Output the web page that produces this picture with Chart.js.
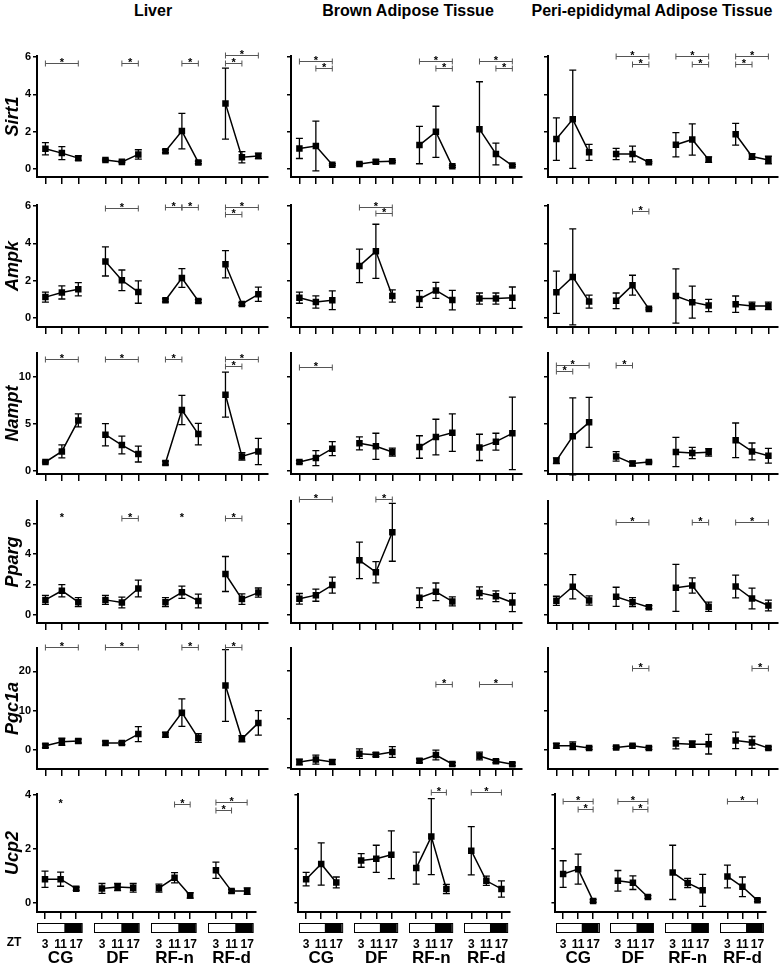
<!DOCTYPE html>
<html>
<head>
<meta charset="utf-8">
<script src="https://cdn.jsdelivr.net/npm/chart.js@4"></script>
<style>
body { margin:0; background:#fff; width:782px; height:967px; position:relative; overflow:hidden; }
.title { position:absolute; top:2px; font:bold 16px 'Liberation Sans Narrow','Liberation Sans',Arial,sans-serif; transform:translateX(-50%); white-space:nowrap; color:#000; }
canvas { position:absolute; }
</style>
</head>
<body>
<div class="title" style="left:153px">Liver</div>
<div class="title" style="left:408px">Brown Adipose Tissue</div>
<div class="title" style="left:652px">Peri-epididymal Adipose Tissue</div>
<script>
const groups = ['CG', 'DF', 'RF-n', 'RF-d'];
const zt = ['3', '11', '17'];
const genes = ['Sirt1', 'Ampk', 'Nampt', 'Pparg', 'Pgc1a', 'Ucp2'];

// mean and error per tissue (liver, BAT, pWAT); 12 values = CG, DF, RF-n, RF-d x ZT3/11/17
const sirt1Mean = [
  [1.08, 0.85, 0.58, 0.48, 0.38, 0.78, 0.95, 2.03, 0.35, 3.5, 0.63, 0.7],
  [1.1, 1.23, 0.23, 0.27, 0.39, 0.41, 1.28, 1.99, 0.14, 2.13, 0.8, 0.18],
  [1.6, 2.66, 0.89, 0.8, 0.8, 0.36, 1.3, 1.58, 0.5, 1.86, 0.67, 0.48]
];
const sirt1Err = [
  [0.33, 0.35, 0.12, 0.05, 0.04, 0.25, 0.08, 0.95, 0.07, 1.9, 0.3, 0.15],
  [0.54, 1.33, 0.05, 0.05, 0.1, 0.05, 1.0, 1.37, 0.05, 2.54, 0.58, 0.05],
  [1.14, 2.63, 0.43, 0.3, 0.42, 0.05, 0.65, 0.84, 0.15, 0.58, 0.15, 0.2]
];
const ampkMean = [
  [1.12, 1.37, 1.54, 3.03, 2.02, 1.39, 0.95, 2.14, 0.91, 2.88, 0.75, 1.27],
  [1.09, 0.86, 0.95, 2.79, 3.57, 1.18, 1.02, 1.48, 0.96, 1.04, 1.04, 1.09],
  [1.38, 2.2, 0.88, 0.92, 1.76, 0.49, 1.18, 0.85, 0.67, 0.74, 0.65, 0.65]
];
const ampkErr = [
  [0.27, 0.35, 0.35, 0.78, 0.55, 0.6, 0.08, 0.5, 0.08, 0.73, 0.07, 0.38],
  [0.3, 0.33, 0.5, 0.9, 1.45, 0.33, 0.45, 0.43, 0.52, 0.3, 0.3, 0.57],
  [1.13, 2.57, 0.35, 0.42, 0.53, 0.05, 1.45, 0.86, 0.33, 0.44, 0.2, 0.2]
];
const namptMean = [
  [0.93, 2.06, 5.37, 3.84, 2.74, 1.78, 0.82, 6.48, 3.91, 8.11, 1.53, 2.06],
  [0.93, 1.35, 2.35, 2.92, 2.6, 1.99, 2.53, 3.59, 4.06, 2.49, 3.1, 3.99],
  [1.07, 3.67, 5.16, 1.53, 0.78, 0.93, 1.99, 1.89, 1.96, 3.24, 2.06, 1.6]
];
const namptErr = [
  [0.1, 0.7, 0.7, 1.18, 0.95, 0.85, 0.2, 1.56, 1.15, 2.4, 0.4, 1.4],
  [0.15, 0.8, 0.75, 0.7, 1.4, 0.42, 1.2, 1.9, 2.0, 1.4, 0.9, 3.87],
  [0.3, 4.1, 2.67, 0.5, 0.25, 0.1, 1.56, 0.6, 0.4, 1.85, 0.9, 0.78]
];
const ppargMean = [
  [1.0, 1.6, 0.85, 1.0, 0.83, 1.75, 0.85, 1.5, 0.93, 2.7, 1.05, 1.48],
  [1.07, 1.31, 1.97, 3.6, 2.82, 5.44, 1.14, 1.53, 0.9, 1.46, 1.24, 0.83],
  [0.94, 1.86, 0.96, 1.2, 0.85, 0.52, 1.79, 1.94, 0.55, 1.88, 1.09, 0.63]
];
const ppargErr = [
  [0.3, 0.4, 0.3, 0.3, 0.35, 0.55, 0.3, 0.4, 0.45, 1.15, 0.35, 0.3],
  [0.35, 0.4, 0.53, 1.2, 0.7, 1.9, 0.65, 0.58, 0.3, 0.4, 0.35, 0.6],
  [0.3, 0.8, 0.3, 0.63, 0.3, 0.1, 1.55, 0.5, 0.3, 0.75, 0.68, 0.35]
];
const pgc1aMean = [
  [1.1, 2.1, 2.3, 1.77, 1.77, 4.05, 3.9, 9.5, 3.04, 16.4, 2.87, 6.9],
  [1.1, 1.6, 1.1, 2.84, 2.63, 3.18, 1.38, 2.56, 0.69, 2.35, 1.25, 0.62],
  [1.1, 1.1, 0.5, 0.67, 1.1, 0.5, 1.7, 1.5, 1.5, 2.45, 1.94, 0.5]
];
const pgc1aErr = [
  [0.5, 0.9, 0.5, 0.5, 0.4, 1.9, 0.6, 3.5, 1.1, 9.1, 0.8, 3.1],
  [0.6, 0.95, 0.5, 1.0, 0.4, 1.1, 0.4, 1.0, 0.35, 0.8, 0.3, 0.3],
  [0.6, 1.0, 0.3, 0.3, 0.3, 0.3, 1.4, 0.8, 2.5, 2.1, 1.5, 0.3]
];
const ucp2Mean = [
  [0.88, 0.88, 0.53, 0.54, 0.59, 0.56, 0.55, 0.93, 0.28, 1.21, 0.44, 0.44],
  [0.88, 1.44, 0.76, 1.57, 1.63, 1.78, 1.29, 2.45, 0.52, 1.93, 0.82, 0.52],
  [1.07, 1.25, 0.08, 0.82, 0.75, 0.22, 1.13, 0.74, 0.47, 0.98, 0.6, 0.1]
];
const ucp2Err = [
  [0.3, 0.26, 0.06, 0.18, 0.13, 0.16, 0.15, 0.19, 0.1, 0.3, 0.06, 0.12],
  [0.25, 0.78, 0.2, 0.25, 0.5, 0.88, 0.59, 1.4, 0.17, 0.89, 0.17, 0.3],
  [0.49, 0.55, 0.05, 0.38, 0.25, 0.05, 1.0, 0.17, 0.59, 0.42, 0.36, 0.05]
];

// significance brackets: [group, from ZT index, to ZT index, level]; from == to -> star only
const sirt1Sig = [
  [[0,0,2,5.68],[1,1,2,5.68],[2,1,2,5.68],[3,0,2,6.09],[3,0,1,5.7]],
  [[0,0,2,5.8],[0,1,2,5.42],[2,0,2,5.8],[2,1,2,5.42],[3,0,2,5.8],[3,1,2,5.42]],
  [[1,0,2,6.04],[1,1,2,5.63],[2,0,2,6.04],[2,1,2,5.63],[3,0,2,6.04],[3,0,1,5.63]]
];
const ampkSig = [
  [[1,0,2,5.9],[2,0,1,5.95],[2,1,2,5.95],[3,0,2,5.95],[3,0,1,5.55]],
  [[1,0,2,5.95],[1,1,2,5.6]],
  [[1,1,2,5.75]]
];
const namptSig = [
  [[0,0,2,11.9],[1,0,2,11.9],[2,0,1,11.9],[3,0,2,11.9],[3,0,1,11.14]],
  [[0,0,2,11.07]],
  [[0,0,2,11.28],[0,0,1,10.6],[1,0,1,11.28]]
];
const ppargSig = [
  [[0,1,1,6.4],[1,1,2,6.4],[2,1,1,6.4],[3,0,1,6.4]],
  [[0,0,2,7.6],[1,1,2,7.6]],
  [[1,0,2,6.1],[2,1,2,6.1],[3,0,2,6.1]]
];
const pgc1aSig = [
  [[0,0,2,26.1],[1,0,2,26.1],[2,1,2,26.1],[3,0,1,26.1]],
  [[2,1,2,17.3],[3,0,2,17.3]],
  [[1,1,2,20.7],[3,1,2,20.7]]
];
const ucp2Sig = [
  [[0,1,1,3.66],[2,1,2,3.66],[3,0,2,3.72],[3,0,1,3.44]],
  [[2,1,2,4.09],[3,0,2,4.09]],
  [[0,0,2,3.77],[0,1,2,3.48],[1,0,2,3.77],[1,1,2,3.48],[3,0,2,3.77]]
];

// y tick values
const sirt1Ticks = [0, 2, 4, 6];
const ampkTicks = [0, 2, 4, 6];
const namptTicks = [0, 5, 10];
const ppargTicks = [0, 2, 4, 6];
const pgc1aTicks = [0, 10, 20];
const ucp2Ticks = [0, 2, 4];

const rows = [
  { mean: sirt1Mean, err: sirt1Err, sig: sirt1Sig, ticks: sirt1Ticks, range: [[-0.43, 6.05]] },
  { mean: ampkMean, err: ampkErr, sig: ampkSig, ticks: ampkTicks, range: [[-0.48, 6.05]] },
  { mean: namptMean, err: namptErr, sig: namptSig, ticks: namptTicks, range: [[-0.35, 12.56]] },
  { mean: ppargMean, err: ppargErr, sig: ppargSig, ticks: ppargTicks, range: [[-0.52, 7.5]] },
  { mean: pgc1aMean, err: pgc1aErr, sig: pgc1aSig, ticks: pgc1aTicks, range: [[-4.8, 25.9], [-0.35, 24.8], [-4.8, 25.9]] },
  { mean: ucp2Mean, err: ucp2Err, sig: ucp2Sig, ticks: ucp2Ticks, range: [[-0.33, 4.02]] }
];

// layout (px)
const GS = 3.65;                 // x distance between groups
const colX = [0, 285, 542];
const yAxisW = [37, 6, 6];
const plotW = 233;
const rowTop = [56, 205, 353, 501, 648, 794];
const rowBottom = [177, 327, 474, 623, 769, 912];
const padTop = 22;
const FONT = "'Liberation Sans', Arial, sans-serif";
const NARROW = "'Liberation Sans Narrow', 'Liberation Sans', Arial, sans-serif";

Chart.defaults.font.family = FONT;
Chart.defaults.color = '#000';

const xPos = [];
groups.forEach((g, gi) => zt.forEach((z, i) => xPos.push(gi * GS + i)));

const panelPlugin = {
  id: 'panel',
  beforeDatasetsDraw(chart, args, opts) {
    const ctx = chart.ctx, y = chart.scales.y;
    ctx.save();
    ctx.strokeStyle = '#000';
    ctx.lineWidth = 1.3;
    chart.data.datasets.forEach((ds, di) => {
      chart.getDatasetMeta(di).data.forEach((pt, i) => {
        const m = ds.data[i].y, e = ds.errs[i];
        const yt = y.getPixelForValue(m + e), yb = y.getPixelForValue(m - e);
        ctx.beginPath();
        ctx.moveTo(pt.x, yt); ctx.lineTo(pt.x, yb);
        ctx.moveTo(pt.x - 3.5, yt); ctx.lineTo(pt.x + 3.5, yt);
        ctx.moveTo(pt.x - 3.5, yb); ctx.lineTo(pt.x + 3.5, yb);
        ctx.stroke();
      });
    });
    ctx.restore();
  },
  afterDraw(chart, args, opts) {
    const ctx = chart.ctx, x = chart.scales.x, y = chart.scales.y;
    ctx.save();
    // brackets
    opts.sig.forEach(([g, a, b, lvl]) => {
      const x1 = x.getPixelForValue(g * GS + a), x2 = x.getPixelForValue(g * GS + b);
      const yy = Math.round(y.getPixelForValue(lvl)) + 0.5;
      if (a !== b) {
        ctx.strokeStyle = '#555';
        ctx.lineWidth = 1;
        ctx.beginPath();
        ctx.moveTo(x1, yy); ctx.lineTo(x2, yy);
        ctx.moveTo(x1, yy - 3); ctx.lineTo(x1, yy + 3);
        ctx.moveTo(x2, yy - 3); ctx.lineTo(x2, yy + 3);
        ctx.stroke();
      }
      ctx.fillStyle = '#000';
      ctx.font = 'bold 11px ' + FONT;
      ctx.textAlign = 'center';
      ctx.textBaseline = 'alphabetic';
      ctx.fillText('*', (x1 + x2) / 2, yy + 2);
    });
    // light/dark bars and group names under the bottom row
    if (opts.bottom) {
      const top = chart.chartArea.bottom + 11;
      groups.forEach((name, g) => {
        const l = x.getPixelForValue(g * GS - 0.5);
        const r = x.getPixelForValue(g * GS + 2.36);
        const mid = x.getPixelForValue(g * GS + 1.24);
        ctx.fillStyle = '#000';
        ctx.fillRect(mid, top, r - mid, 10);
        ctx.strokeStyle = '#000';
        ctx.lineWidth = 1;
        ctx.strokeRect(Math.round(l) + 0.5, top + 0.5, r - l, 9);
        ctx.font = 'bold 17px ' + NARROW;
        ctx.textAlign = 'center';
        ctx.textBaseline = 'middle';
        ctx.fillText(name, x.getPixelForValue(g * GS + 1), chart.chartArea.bottom + 46);
      });
      if (opts.zt) {
        ctx.font = 'bold 12px ' + NARROW;
        ctx.textAlign = 'center';
        ctx.textBaseline = 'middle';
        ctx.fillText('ZT', 14, chart.chartArea.bottom + 31);
      }
    }
    ctx.restore();
  }
};

function makePanel(r, c) {
  const row = rows[r];
  const bottom = r === rows.length - 1;
  const xH = bottom ? 967 - rowBottom[r] : 12;
  const w = yAxisW[c] + plotW + (c === 2 ? 1 : 2);
  const h = padTop + rowBottom[r] - rowTop[r] + xH;
  const cv = document.createElement('canvas');
  cv.width = w; cv.height = h;
  cv.style.left = colX[c] + 'px';
  cv.style.top = (rowTop[r] - padTop) + 'px';
  cv.style.width = w + 'px';
  cv.style.height = h + 'px';
  document.body.appendChild(cv);

  const range = row.range[c] || row.range[0];
  const mean = row.mean[c], err = row.err[c];
  const datasets = groups.map((name, g) => ({
    label: name,
    data: zt.map((z, i) => ({ x: g * GS + i, y: mean[g * 3 + i] })),
    errs: zt.map((z, i) => err[g * 3 + i]),
    borderColor: '#000',
    borderWidth: 1.5,
    pointStyle: 'rect',
    pointRadius: 4.6,
    pointBackgroundColor: '#000',
    pointBorderColor: '#000',
    pointBorderWidth: 0,
    tension: 0
  }));

  new Chart(cv, {
    type: 'line',
    data: { datasets },
    plugins: [panelPlugin],
    options: {
      responsive: false,
      animation: false,
      devicePixelRatio: 1,
      layout: { padding: { top: padTop, left: 0, right: c === 2 ? 1 : 2, bottom: 0 } },
      plugins: {
        legend: { display: false },
        tooltip: { enabled: false },
        panel: { sig: row.sig[c], bottom, zt: c === 0 }
      },
      scales: {
        x: {
          type: 'linear',
          min: -0.512,
          max: 13.5,
          afterBuildTicks: s => { s.ticks = xPos.map(v => ({ value: v })); },
          afterFit: s => { s.height = xH; },
          grid: { drawOnChartArea: false, tickLength: 7, color: '#000', lineWidth: 1.5 },
          border: { color: '#000', width: 2 },
          ticks: {
            display: bottom, autoSkip: false, maxRotation: 0, padding: 18,
            font: { size: 12, weight: 'bold', family: NARROW },
            callback: (v, i) => zt[i % 3]
          }
        },
        y: {
          min: range[0],
          max: range[1],
          afterBuildTicks: s => { s.ticks = row.ticks.map(v => ({ value: v })); },
          afterFit: s => { s.width = yAxisW[c]; },
          grid: { drawOnChartArea: false, tickLength: 4, color: '#000', lineWidth: 1.5 },
          border: { color: '#000', width: 2 },
          ticks: { display: c === 0, padding: 2, font: { size: 11, weight: 'bold' } },
          title: {
            display: c === 0, text: genes[r], padding: { top: 2, bottom: 0 },
            font: { size: 18, weight: 'bold', style: 'italic' }
          }
        }
      }
    }
  });
}

for (let r = 0; r < rows.length; r++) {
  for (let c = 0; c < 3; c++) makePanel(r, c);
}
</script>
</body>
</html>
